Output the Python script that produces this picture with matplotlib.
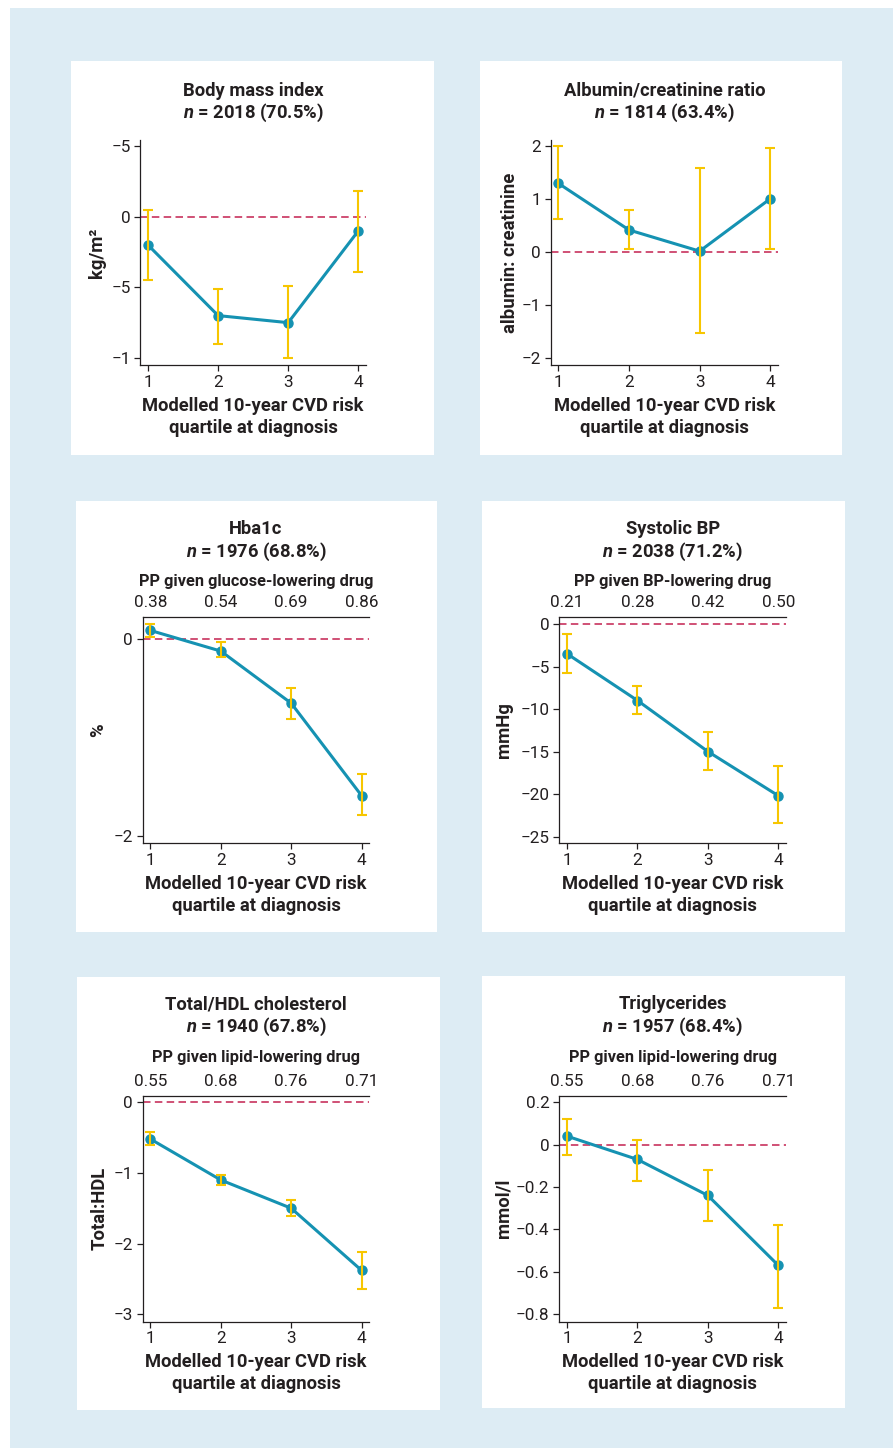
import matplotlib
matplotlib.use("Agg")
import matplotlib.pyplot as plt
from matplotlib.patches import Rectangle

plt.rcParams['font.family'] = ['Roboto', 'DejaVu Sans']
plt.rcParams['mathtext.fontset'] = 'custom'
plt.rcParams['mathtext.it'] = 'Roboto:italic:bold'
plt.rcParams['mathtext.rm'] = 'Roboto:bold'

W, H = 893, 1448
INK = '#231f20'
TEAL = '#1592b2'
GOLD = '#f7c600'
RED = '#c8325e'
BG = '#ddecf4'

quartiles = [1, 2, 3, 4]
xlabel = "Modelled 10-year CVD risk\nquartile at diagnosis"

bmi = [-0.20, -0.70, -0.75, -0.10]
bmi_lo = [-0.45, -0.90, -1.00, -0.39]
bmi_hi = [0.05, -0.51, -0.49, 0.18]
bmi_ticks = [0.5, 0, -0.5, -1]
bmi_ticklabels = ["\u22125", "0", "\u22125", "\u22121"]

acr = [1.29, 0.41, 0.01, 1.00]
acr_lo = [0.62, 0.05, -1.54, 0.05]
acr_hi = [1.99, 0.79, 1.59, 1.95]
acr_ticks = [2, 1, 0, -1, -2]
acr_ticklabels = ["2", "1", "0", "\u22121", "\u22122"]

hba1c = [0.09, -0.12, -0.65, -1.59]
hba1c_lo = [0.02, -0.18, -0.81, -1.79]
hba1c_hi = [0.16, -0.03, -0.50, -1.37]
hba1c_ticks = [0, -2]
hba1c_ticklabels = ["0", "\u22122"]

sbp = [-3.5, -9.0, -15.0, -20.2]
sbp_lo = [-5.8, -10.6, -17.2, -23.4]
sbp_hi = [-1.2, -7.3, -12.7, -16.7]
sbp_ticks = [0, -5, -10, -15, -20, -25]
sbp_ticklabels = ["0", "\u22125", "\u221210", "\u221215", "\u221220", "\u221225"]

tchdl = [-0.52, -1.10, -1.50, -2.38]
tchdl_lo = [-0.61, -1.17, -1.61, -2.65]
tchdl_hi = [-0.42, -1.03, -1.38, -2.12]
tchdl_ticks = [0, -1, -2, -3]
tchdl_ticklabels = ["0", "\u22121", "\u22122", "\u22123"]

tg = [0.04, -0.07, -0.24, -0.57]
tg_lo = [-0.05, -0.17, -0.36, -0.77]
tg_hi = [0.12, 0.02, -0.12, -0.38]
tg_ticks = [0.2, 0, -0.2, -0.4, -0.6, -0.8]
tg_ticklabels = ["0.2", "0", "\u22120.2", "\u22120.4", "\u22120.6", "\u22120.8"]

pp_glucose = ["0.38", "0.54", "0.69", "0.86"]
pp_bp = ["0.21", "0.28", "0.42", "0.50"]
pp_lipid = ["0.55", "0.68", "0.76", "0.71"]


def px_rect(x0, y0, x1, y1):
    return [x0 / W, 1 - y1 / H, (x1 - x0) / W, (y1 - y0) / H]


fig = plt.figure(figsize=(W / 100, H / 100), dpi=100, facecolor='white')
fig.add_artist(Rectangle((10 / W, 0), 1 - 10 / W, 1 - 8 / H, transform=fig.transFigure,
                         facecolor=BG, edgecolor='none', zorder=-20))
for x0, y0, x1, y1 in [(71, 61, 434, 455), (480, 61, 842, 455),
                       (76, 501, 437, 932), (482, 501, 845, 932),
                       (77, 977, 440, 1410), (482, 976, 845, 1408)]:
    r = px_rect(x0, y0, x1, y1)
    fig.add_artist(Rectangle((r[0], r[1]), r[2], r[3], transform=fig.transFigure,
                             facecolor='white', edgecolor='none', zorder=-10))


def panel(rect, y, lo, hi, ticks, ticklabels, ylim, ylabel, ylab_dx, title, ntext,
          pp=None, pp_label=None, offs=(35.3, 19.7, None)):
    ax = fig.add_axes(px_rect(*rect))
    ax.set_facecolor('none')
    ax.axhline(0, color=RED, lw=1.2, ls=(0, (4.5, 2.6)), zorder=1)
    ax.plot(quartiles, y, color=TEAL, lw=2.2, marker='o', ms=6.5, zorder=3)
    yerr = [[v - l for v, l in zip(y, lo)], [h - v for v, h in zip(y, hi)]]
    ax.errorbar(quartiles, y, yerr=yerr, fmt='none', ecolor=GOLD, elinewidth=1.5,
                capsize=3.8, capthick=1.5, zorder=4)
    ax.set_xlim(0.89, 4.11)
    ax.set_ylim(*ylim)
    ax.set_xticks(quartiles)
    ax.set_yticks(ticks)
    ax.set_yticklabels(ticklabels)
    ax.tick_params(colors=INK, labelsize=12.3, length=4, width=0.9, pad=3)
    for s in ['right', 'top']:
        ax.spines[s].set_visible(False)
    for s in ['left', 'bottom']:
        ax.spines[s].set_color(INK)
        ax.spines[s].set_linewidth(0.9)
    ax.annotate(ylabel, xy=(0, 0.5), xycoords='axes fraction', xytext=(-ylab_dx, 0),
                textcoords='offset points', rotation=90, ha='center', va='center',
                fontsize=13.3, fontweight='bold', color=INK)
    ax.annotate(xlabel, xy=(0.5, 0), xycoords='axes fraction', xytext=(0, -37.2),
                textcoords='offset points', ha='center', va='center', fontsize=13.2,
                fontweight='bold', color=INK, linespacing=1.3)
    t_off, n_off, pp_off = offs
    if pp is not None:
        sec = ax.secondary_xaxis('top')
        sec.set_xticks(quartiles)
        sec.set_xticklabels(pp)
        sec.tick_params(length=0, labelsize=12.3, colors=INK, pad=4.5)
        sec.spines['top'].set_color(INK)
        sec.spines['top'].set_linewidth(0.9)
        ax.annotate(pp_label, xy=(0.5, 1), xycoords='axes fraction', xytext=(0, pp_off),
                    textcoords='offset points', ha='center', va='center', fontsize=11.8,
                    fontweight='bold', color=INK)
    ax.annotate(title, xy=(0.5, 1), xycoords='axes fraction', xytext=(0, t_off),
                textcoords='offset points', ha='center', va='center', fontsize=13.2,
                fontweight='bold', color=INK)
    ax.annotate(ntext, xy=(0.5, 1), xycoords='axes fraction', xytext=(0, n_off),
                textcoords='offset points', ha='center', va='center', fontsize=13.2,
                fontweight='bold', color=INK)
    return ax


mid_offs = (62.9, 46.8, 25.2)
low_offs = (65.8, 49.7, 27.4)
panel((140.3, 140, 366, 365), bmi, bmi_lo, bmi_hi, bmi_ticks, bmi_ticklabels,
      (-1.05, 0.544), "kg/m\u00b2", 31.4, "Body mass index", "$n$ = 2018 (70.5%)")
panel((550.7, 140, 778, 365), acr, acr_lo, acr_hi, acr_ticks, acr_ticklabels,
      (-2.14, 2.11), "albumin: creatinine", 29.5, "Albumin/creatinine ratio",
      "$n$ = 1814 (63.4%)")
panel((142.7, 616.7, 369.3, 843.3), hba1c, hba1c_lo, hba1c_hi, hba1c_ticks,
      hba1c_ticklabels, (-2.075, 0.23), "%", 32.2, "Hba1c", "$n$ = 1976 (68.8%)",
      pp_glucose, "PP given glucose-lowering drug", mid_offs)
panel((559.3, 616.7, 786, 843.3), sbp, sbp_lo, sbp_hi, sbp_ticks, sbp_ticklabels,
      (-25.8, 0.86), "mmHg", 39.8, "Systolic BP", "$n$ = 2038 (71.2%)",
      pp_bp, "PP given BP-lowering drug", mid_offs)
panel((142.7, 1095.7, 369.3, 1321.7), tchdl, tchdl_lo, tchdl_hi, tchdl_ticks,
      tchdl_ticklabels, (-3.107, 0.094), "Total:HDL", 31.2, "Total/HDL cholesterol",
      "$n$ = 1940 (67.8%)", pp_lipid, "PP given lipid-lowering drug", low_offs)
panel((559.3, 1095.7, 786, 1321.7), tg, tg_lo, tg_hi, tg_ticks, tg_ticklabels,
      (-0.836, 0.231), "mmol/l", 40.5, "Triglycerides", "$n$ = 1957 (68.4%)",
      pp_lipid, "PP given lipid-lowering drug", low_offs)

fig.savefig("out.png", dpi=100, facecolor='white')
